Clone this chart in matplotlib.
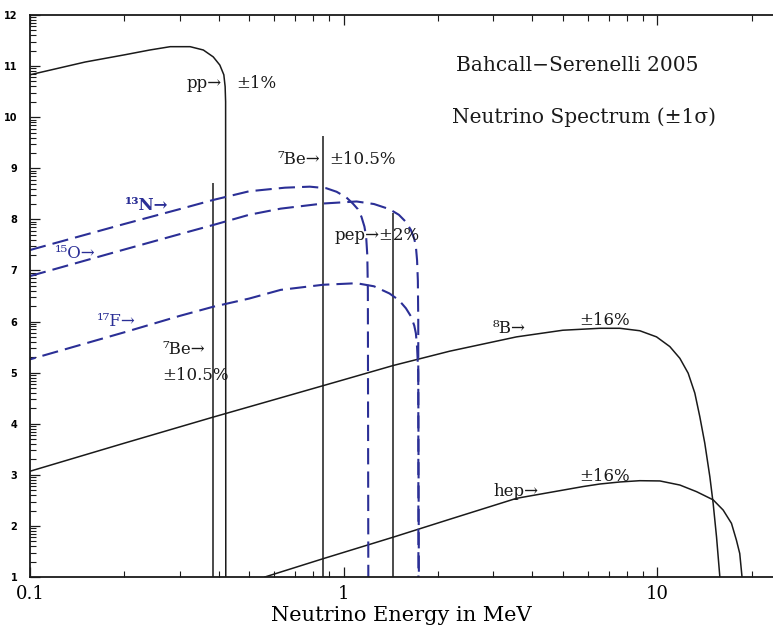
import numpy as np
import matplotlib
matplotlib.use("Agg")
import matplotlib.pyplot as plt
from matplotlib.ticker import FixedLocator, NullFormatter

# --- data (log10 flux vs neutrino energy in MeV) ---
pp_E = [0.1, 0.15, 0.2, 0.241, 0.28, 0.324, 0.357, 0.384, 0.403, 0.415, 0.419, 0.4205, 0.421]
pp_y = [10.83, 11.08, 11.22, 11.315, 11.38, 11.38, 11.315, 11.18, 11.02, 10.83, 10.60, 10.30, 1.0]

b8_E = [0.1, 0.2, 0.384, 0.6, 1.0, 1.44, 2.18, 3.56, 5.0, 6.56, 7.6, 8.8, 9.95, 10.97, 11.81,
        12.55, 13.18, 13.67, 14.18, 14.72, 15.08, 15.46, 15.84]
b8_y = [3.07, 3.62, 4.13, 4.47, 4.86, 5.14, 5.42, 5.70, 5.83, 5.868, 5.868, 5.82, 5.70, 5.51, 5.28,
        4.99, 4.60, 4.14, 3.62, 2.96, 2.44, 1.78, 1.0]

hep_E = [0.561, 0.862, 1.44, 2.18, 3.56, 5.8, 6.56, 7.6, 8.8, 10.2, 11.81, 13.35, 15.08, 16.23,
         17.25, 17.89, 18.33, 18.64]
hep_y = [1.0, 1.36, 1.78, 2.13, 2.54, 2.77, 2.82, 2.86, 2.885, 2.88, 2.80, 2.67, 2.51, 2.31,
         2.05, 1.72, 1.46, 1.0]

n13_E = [0.1, 0.2, 0.3, 0.384, 0.5, 0.65, 0.78, 0.88, 0.95, 1.02, 1.07, 1.11, 1.14, 1.165, 1.18, 1.19, 1.195, 1.199]
n13_y = [7.40, 7.91, 8.20, 8.38, 8.55, 8.62, 8.64, 8.61, 8.54, 8.43, 8.31, 8.20, 8.05, 7.86, 7.66, 7.30, 6.60, 1.0]

o15_E = [0.1, 0.2, 0.3, 0.384, 0.5, 0.63, 0.86, 1.1, 1.25, 1.4, 1.5, 1.58, 1.64, 1.68, 1.70, 1.715, 1.725, 1.73, 1.732]
o15_y = [6.89, 7.41, 7.71, 7.89, 8.09, 8.21, 8.31, 8.35, 8.30, 8.20, 8.09, 7.95, 7.79, 7.62, 7.47, 7.20, 6.80, 6.00, 1.0]

f17_E = [0.1, 0.2, 0.3, 0.384, 0.5, 0.63, 0.86, 1.1, 1.25, 1.4, 1.5, 1.58, 1.64, 1.68, 1.70, 1.715, 1.73, 1.738]
f17_y = [5.26, 5.79, 6.11, 6.29, 6.45, 6.62, 6.72, 6.75, 6.69, 6.55, 6.42, 6.26, 6.10, 5.92, 5.77, 5.50, 5.00, 1.0]

# line sources: 7Be (two lines) and pep
line_E = [0.384, 0.862, 1.442]
line_top = [8.71, 9.63, 8.13]

xticks = [0.1, 1, 10]
xtick_labels = ["0.1", "1", "10"]
yticks = list(range(1, 13))

black = "#1a1a1a"
blue = "#2b2f96"
serif = ["DejaVu Serif", "DejaVu Sans"]

fig = plt.figure(figsize=(7.73, 6.28), dpi=100)
ax = fig.add_axes([30 / 773, 51 / 628, 743 / 773, 562 / 628])

ax.set_xscale("log")
ax.set_xlim(0.1, 23.4)
ax.set_ylim(1, 12)

# solid spectra
for E, y in [(pp_E, pp_y), (b8_E, b8_y), (hep_E, hep_y)]:
    ax.plot(E, y, color=black, lw=1.1, solid_joinstyle="round")
ax.vlines(line_E, 1, line_top, color=black, lw=1.1)

# CNO spectra, dashed
dash = (7.8, 3.4)
for E, y, off in [(n13_E, n13_y, 0), (o15_E, o15_y, 0), (f17_E, f17_y, 5)]:
    ax.plot(E, y, color=blue, lw=1.5, linestyle=(off, dash), dash_capstyle="butt")

# axes styling
ax.spines["right"].set_visible(False)
for s in ["left", "bottom", "top"]:
    ax.spines[s].set_linewidth(1.3)
    ax.spines[s].set_color(black)

ax.xaxis.set_major_locator(FixedLocator(xticks))
ax.set_xticklabels(xtick_labels, family=serif, fontsize=13)
ax.xaxis.set_minor_locator(FixedLocator([m * 10.0 ** k for k in (-1, 0, 1) for m in range(2, 10)]))
ax.xaxis.set_minor_formatter(NullFormatter())

ax.yaxis.set_major_locator(FixedLocator(yticks))
ax.set_yticklabels([str(v) for v in yticks], fontsize=7, fontweight="bold", family="DejaVu Sans")
ax.yaxis.set_minor_locator(FixedLocator([k + np.log10(m) for k in range(1, 12) for m in range(2, 10)]))

ax.tick_params(which="major", direction="in", length=7, width=0.9, color=black,
               top=True, right=False)
ax.tick_params(which="minor", direction="in", length=4, width=0.8, color=black,
               top=True, right=False)
ax.tick_params(axis="x", which="major", pad=6)
ax.tick_params(axis="y", which="major", pad=9)

ax.set_xlabel("Neutrino Energy in MeV", family=serif, fontsize=15, labelpad=2)

# titles
ax.text(0.574, 0.911, "Bahcall\u2212Serenelli 2005", transform=ax.transAxes,
        family=serif, fontsize=14.5, ha="left", va="center", color=black)
ax.text(0.568, 0.8185, "Neutrino Spectrum (\u00b11\u03c3)", transform=ax.transAxes,
        family=serif, fontsize=14.5, ha="left", va="center", color=black)

# labels on the curves
labels = [
    (0.316, 10.65, "pp\u2192", black, "normal"),
    (0.4535, 10.65, "\u00b11%", black, "normal"),
    (0.617, 9.18, "\u2077Be\u2192", black, "normal"),
    (0.898, 9.18, "\u00b110.5%", black, "normal"),
    (0.938, 7.69, "pep\u2192\u00b12%", black, "normal"),
    (0.2635, 5.46, "\u2077Be\u2192", black, "normal"),
    (0.2635, 4.95, "\u00b110.5%", black, "normal"),
    (2.99, 5.87, "\u2078B\u2192", black, "normal"),
    (5.63, 6.02, "\u00b116%", black, "normal"),
    (3.01, 2.67, "hep\u2192", black, "normal"),
    (5.63, 2.96, "\u00b116%", black, "normal"),
    (0.201, 8.28, "\u00b9\u00b3N\u2192", blue, "bold"),
    (0.120, 7.34, "\u00b9\u2075O\u2192", blue, "normal"),
    (0.1636, 6.00, "\u00b9\u2077F\u2192", blue, "normal"),
]
for x, y, t, c, w in labels:
    ax.text(x, y, t, family=serif, fontsize=12, color=c, fontweight=w,
            ha="left", va="center")

fig.savefig("out.png", dpi=100)
